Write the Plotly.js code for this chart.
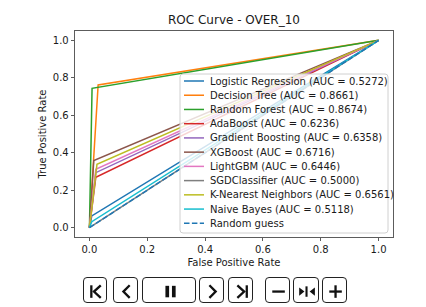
<!DOCTYPE html>
<html>
<head>
<meta charset="utf-8">
<script src="https://cdn.plot.ly/plotly-3.0.1.min.js"></script>
<style>
  html, body { margin:0; padding:0; background:#fff; width:426px; height:307px; overflow:hidden; font-family:"DejaVu Sans", sans-serif; }
  #chart { position:absolute; left:0; top:0; width:426px; height:270px; }
  .btn { position:absolute; top:277px; height:26px; box-sizing:border-box; border:1.5px solid #222; border-radius:4px; background:#fff; }
  .btn svg { position:absolute; left:0; top:0; width:100%; height:100%; }
</style>
</head>
<body>
<div id="chart"></div>
<div id="controls"></div>
<script>
// ---- data ----
const title = 'ROC Curve - OVER_10';
const xLabel = 'False Positive Rate';
const yLabel = 'True Positive Rate';
const models = ['Logistic Regression','Decision Tree','Random Forest','AdaBoost','Gradient Boosting','XGBoost','LightGBM','SGDClassifier','K-Nearest Neighbors','Naive Bayes'];
const aucs   = [0.5272, 0.8661, 0.8674, 0.6236, 0.6358, 0.6716, 0.6446, 0.5000, 0.6561, 0.5118];
const fprs = [
  [0, 0.008, 1],
  [0, 0.030, 1],
  [0, 0.009, 1],
  [0, 0.022, 1],
  [0, 0.022, 1],
  [0, 0.015, 1],
  [0, 0.022, 1],
  [0, 1],
  [0, 0.026, 1],
  [0, 0.008, 1]
];
const tprs = [
  [0, 0.0624, 1],
  [0, 0.7622, 1],
  [0, 0.7438, 1],
  [0, 0.2692, 1],
  [0, 0.2936, 1],
  [0, 0.3582, 1],
  [0, 0.3112, 1],
  [0, 1],
  [0, 0.3382, 1],
  [0, 0.0316, 1]
];
const guessX = [0, 1];
const guessY = [0, 1];
const guessName = 'Random guess';
const colors = ['#1f77b4','#ff7f0e','#2ca02c','#d62728','#9467bd','#8c564b','#e377c2','#7f7f7f','#bcbd22','#17becf'];
const tickVals = [0, 0.2, 0.4, 0.6, 0.8, 1.0];
const tickText = ['0.0','0.2','0.4','0.6','0.8','1.0'];

// ---- geometry ----
const W = 426, H = 270;
const M = {l:75, r:33, t:31, b:33};
const PW = W - M.l - M.r, PH = H - M.t - M.b;
const px2x = p => (p - M.l) / PW;
const px2y = p => (H - M.b - p) / PH;

const FONT = '"DejaVu Sans", sans-serif';
const TXT = '#1a1a1a';

const traces = models.map((m, i) => ({
  x: fprs[i], y: tprs[i], mode: 'lines', type: 'scatter',
  name: m + ' (AUC = ' + aucs[i].toFixed(4) + ')',
  line: {color: colors[i], width: 1.5},
  hoverinfo: 'skip'
}));
traces.push({
  x: guessX, y: guessY, mode: 'lines', type: 'scatter', name: guessName,
  line: {color: '#1f77b4', width: 1.5, dash: '5.5px,2.4px'}, hoverinfo: 'skip'
});

// ---- manual legend (matplotlib style) ----
const shapes = [];
const annotations = [];
const lgL = 180, lgR = 388, lgT = 74, lgB = 233;
const r = 3;
const x0 = px2x(lgL), x1 = px2x(lgR), y0 = px2y(lgB), y1 = px2y(lgT);
const rx = r / PW, ry = r / PH;
shapes.push({
  type: 'path', xref: 'paper', yref: 'paper', layer: 'above',
  path: `M ${x0+rx},${y1} L ${x1-rx},${y1} Q ${x1},${y1} ${x1},${y1-ry} L ${x1},${y0+ry} Q ${x1},${y0} ${x1-rx},${y0} L ${x0+rx},${y0} Q ${x0},${y0} ${x0},${y0+ry} L ${x0},${y1-ry} Q ${x0},${y1} ${x0+rx},${y1} Z`,
  fillcolor: 'rgba(255,255,255,0.8)', line: {color: '#d0d0d0', width: 1}
});
const rowTop = 81, rowGap = 14.23;
traces.forEach((t, i) => {
  const yy = px2y(rowTop + i * rowGap);
  shapes.push({
    type: 'line', xref: 'paper', yref: 'paper', layer: 'above',
    x0: px2x(184), x1: px2x(204), y0: yy, y1: yy,
    line: {color: t.line.color, width: 1.5, dash: t.line.dash || 'solid'}
  });
  annotations.push({
    xref: 'paper', yref: 'paper', x: px2x(208), y: yy, xanchor: 'left', yanchor: 'middle',
    text: t.name, showarrow: false, font: {family: FONT, size: 10, color: TXT}
  });
});

const axisCommon = {
  range: [-0.05, 1.05], tickvals: tickVals, ticktext: tickText,
  ticks: 'outside', ticklen: 3.5, tickwidth: 0.8, tickcolor: '#333',
  showline: true, mirror: true, linecolor: '#333', linewidth: 0.8,
  showgrid: false, zeroline: false, fixedrange: true,
  tickfont: {family: FONT, size: 10, color: TXT}
};

const layout = {
  width: W, height: H, margin: M,
  paper_bgcolor: '#fff', plot_bgcolor: '#fff',
  showlegend: false,
  title: {text: title, x: 0.5, xref: 'paper', y: 1 - 20 / H, yref: 'container', yanchor: 'middle',
          font: {family: FONT, size: 12, color: TXT}},
  xaxis: Object.assign({}, axisCommon, {title: {text: xLabel, font: {family: FONT, size: 10, color: TXT}, standoff: 4.5}}),
  yaxis: Object.assign({}, axisCommon, {title: {text: yLabel, font: {family: FONT, size: 10, color: TXT}, standoff: 4}}),
  shapes: shapes, annotations: annotations
};

Plotly.newPlot('chart', traces, layout, {displayModeBar: false, staticPlot: true});

// ---- animation controls (icons) ----
const S = 'stroke="#111" stroke-width="2.2" fill="none" stroke-linecap="butt" stroke-linejoin="miter"';
const buttons = [
  {l: 83,  w: 24, svg: `<line x1="7" y1="7" x2="7" y2="19" ${S}/><polyline points="16,7 9.5,13 16,19" ${S}/>`},
  {l: 113, w: 25, svg: `<polyline points="15,7 9,13 15,19" ${S}/>`},
  {l: 142, w: 54, svg: `<rect x="22" y="7.5" width="3.6" height="11" fill="#111"/><rect x="28.4" y="7.5" width="3.6" height="11" fill="#111"/>`},
  {l: 199, w: 25, svg: `<polyline points="9,7 15,13 9,19" ${S}/>`},
  {l: 228, w: 25, svg: `<polyline points="8,7 14.5,13 8,19" ${S}/><line x1="17" y1="7" x2="17" y2="19" ${S}/>`},
  {l: 265, w: 25, svg: `<line x1="6" y1="13" x2="18" y2="13" ${S}/>`},
  {l: 293, w: 26, svg: `<polygon points="5,9 10,13 5,17" fill="#111"/><line x1="12" y1="8" x2="12" y2="18" stroke="#111" stroke-width="2"/><polygon points="20,9 15,13 20,17" fill="#111"/>`},
  {l: 322, w: 25, svg: `<line x1="6" y1="13" x2="18" y2="13" ${S}/><line x1="12" y1="7" x2="12" y2="19" ${S}/>`}
];
const ctr = document.getElementById('controls');
buttons.forEach(b => {
  const d = document.createElement('div');
  d.className = 'btn';
  d.style.left = b.l + 'px';
  d.style.width = b.w + 'px';
  d.innerHTML = `<svg viewBox="0 0 ${b.w-3} 23" preserveAspectRatio="none">${b.svg}</svg>`;
  ctr.appendChild(d);
});
</script>
</body>
</html>
